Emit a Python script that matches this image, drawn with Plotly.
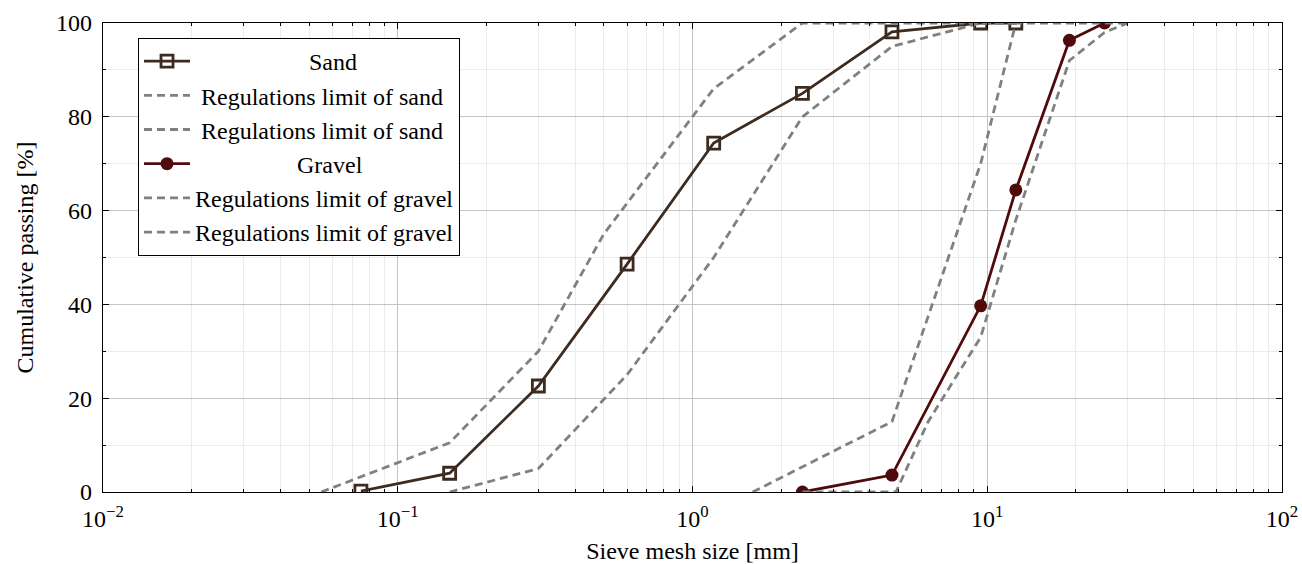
import plotly.graph_objects as go

# ---- data ----
sand_size = [0.075, 0.15, 0.3, 0.6, 1.18, 2.36, 4.75, 9.5, 12.5]
sand_pass = [0.2, 4.0, 22.6, 48.6, 74.4, 85.0, 98.1, 100.0, 100.0]

sand_up_size = [0.055, 0.15, 0.3, 0.5, 1.18, 2.36, 4.75, 9.5, 12.5]
sand_up_pass = [0, 10.5, 30, 55, 86, 100, 100, 100, 100]
sand_lo_size = [0.15, 0.3, 0.6, 1.18, 2.36, 4.75, 9.5, 12.5]
sand_lo_pass = [0, 5, 25, 50, 80, 95, 100, 100]

gravel_size = [2.36, 4.75, 9.5, 12.5, 19.0, 25.0]
gravel_pass = [0.0, 3.6, 39.7, 64.4, 96.3, 100.0]

gravel_up_size = [1.6, 4.75, 9.5, 12.5, 19.0, 30.0]
gravel_up_pass = [0, 15, 70, 100, 100, 100]
gravel_lo_size = [2.36, 4.9, 6.3, 9.5, 12.5, 19.0, 25.0, 30.0]
gravel_lo_pass = [0, 0, 15, 33, 58, 92, 98, 100]

x_tickvals = [0.01, 0.1, 1, 10, 100]
x_ticktext = ["10<sup>\u22122</sup>", "10<sup>\u22121</sup>", "10<sup>0</sup>",
              "10<sup>1</sup>", "10<sup>2</sup>"]
y_tickvals = [0, 20, 40, 60, 80, 100]

SAND_C = "#3d2b20"
GRAVEL_C = "#4f0a0c"
LIM_C = "#808080"
NB = "\u00a0"
DASH = "8px,5px"

fig = go.Figure()
fig.add_trace(go.Scatter(x=sand_size, y=sand_pass, mode="lines+markers",
                         name=NB * 19 + "Sand",
                         line=dict(color=SAND_C, width=2.8),
                         marker=dict(symbol="square-open", size=12, color=SAND_C,
                                     line=dict(width=2.8, color=SAND_C))))
fig.add_trace(go.Scatter(x=sand_up_size, y=sand_up_pass, mode="lines",
                         name=NB * 1 + "Regulations limit of sand",
                         line=dict(color=LIM_C, width=2.8, dash=DASH)))
fig.add_trace(go.Scatter(x=sand_lo_size, y=sand_lo_pass, mode="lines",
                         name=NB * 1 + "Regulations limit of sand",
                         line=dict(color=LIM_C, width=2.8, dash=DASH)))
fig.add_trace(go.Scatter(x=gravel_size, y=gravel_pass, mode="lines+markers",
                         name=NB * 17 + "Gravel",
                         line=dict(color=GRAVEL_C, width=2.8),
                         marker=dict(symbol="circle", size=13, color=GRAVEL_C)))
fig.add_trace(go.Scatter(x=gravel_up_size, y=gravel_up_pass, mode="lines",
                         name="Regulations limit of gravel",
                         line=dict(color=LIM_C, width=2.8, dash=DASH)))
fig.add_trace(go.Scatter(x=gravel_lo_size, y=gravel_lo_pass, mode="lines",
                         name="Regulations limit of gravel",
                         line=dict(color=LIM_C, width=2.8, dash=DASH)))

FONT = "Liberation Serif"
fig.update_layout(
    width=1302, height=564,
    margin=dict(l=103, r=20, t=23, b=72, autoexpand=False),
    paper_bgcolor="white", plot_bgcolor="white",
    font=dict(family=FONT, size=24, color="black"),
    showlegend=True,
    legend=dict(x=0.0297, y=0.968, xanchor="left", yanchor="top",
                bgcolor="white", bordercolor="black", borderwidth=1,
                font=dict(family=FONT, size=24), itemwidth=46,
                tracegroupgap=0),
)
fig.update_xaxes(
    type="log", range=[-2, 2], automargin=False,
    tickvals=x_tickvals, ticktext=x_ticktext,
    showgrid=True, gridcolor="#c4c4c4", gridwidth=1,
    showline=True, linecolor="black", linewidth=1.2, mirror="ticks",
    ticks="inside", ticklen=6, tickcolor="black", ticklabelstandoff=5,
    minor=dict(dtick="D1", showgrid=True, gridcolor="#ececec",
               ticks="inside", ticklen=3, tickcolor="black"),
    title=dict(text="Sieve mesh size [mm]", font=dict(family=FONT, size=24), standoff=13),
    tickfont=dict(family=FONT, size=24),
    zeroline=False,
)
fig.update_yaxes(
    range=[0, 100], tickvals=y_tickvals, automargin=False,
    showgrid=True, gridcolor="#c4c4c4", gridwidth=1,
    showline=True, linecolor="black", linewidth=1.2, mirror="ticks",
    ticks="inside", ticklen=6, tickcolor="black", ticklabelstandoff=5,
    minor=dict(dtick=10, showgrid=True, gridcolor="#ececec",
               ticks="inside", ticklen=3, tickcolor="black"),
    title=dict(text="Cumulative passing [%]", font=dict(family=FONT, size=24), standoff=15),
    tickfont=dict(family=FONT, size=24),
    zeroline=False,
)

fig.write_html("out.html")
